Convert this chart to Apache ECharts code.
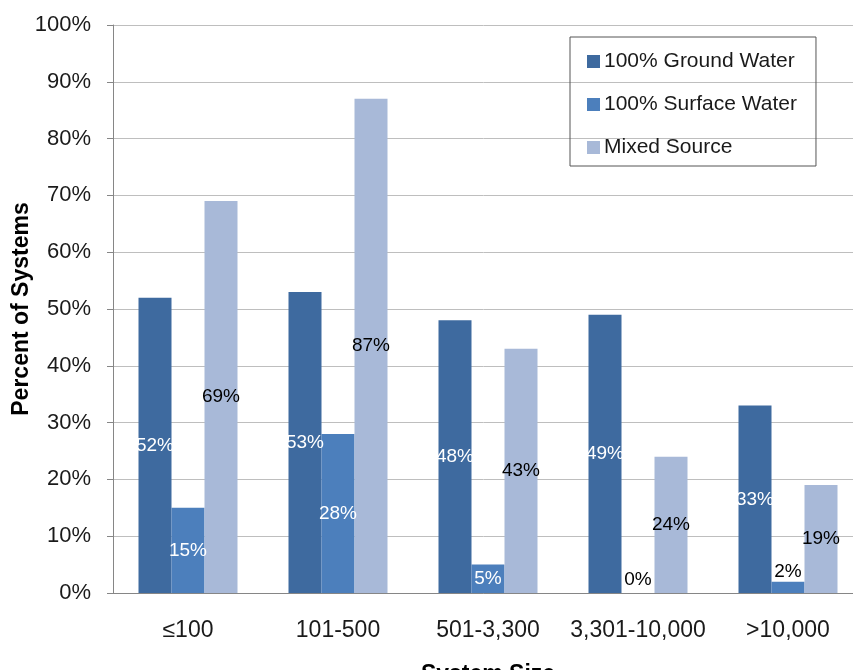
<!DOCTYPE html>
<html><head><meta charset="utf-8">
<script src="https://cdn.jsdelivr.net/npm/echarts@6/dist/echarts.min.js"></script>
<style>html,body{margin:0;padding:0;background:#fff;overflow:hidden}#c{width:853px;height:670px}</style>
</head><body><div id="c"></div>
<script>
const categories = ['≤100', '101-500', '501-3,300', '3,301-10,000', '>10,000'];
const groundWater = [52, 53, 48, 49, 33];
const surfaceWater = [15, 28, 5, 0, 2];
const mixedSource = [69, 87, 43, 24, 19];
const seriesNames = ['100% Ground Water', '100% Surface Water', 'Mixed Source'];
const colors = ['#3E6A9F', '#4C7FBC', '#A8B9D8'];
const FONT = 'Liberation Sans, Arial, sans-serif';

function items(arr) {
  return arr.map(v => {
    if (v <= 3) {
      return { value: v, label: { position: 'top', color: '#000', distance: v === 0 ? 4 : 0 } };
    }
    return { value: v };
  });
}

const labelBase = { show: true, position: 'inside', fontSize: 19, formatter: '{c}%', fontFamily: FONT };

const chart = echarts.init(document.getElementById('c'));
chart.setOption({
  animation: false,
  textStyle: { fontFamily: FONT },
  grid: { left: 113, width: 750, top: 25, height: 568, containLabel: false, outerBoundsMode: 'none' },
  legend: {
    orient: 'vertical', left: 570, top: 37,
    padding: [14, 19, 8, 17],
    itemGap: 22,
    itemWidth: 13, itemHeight: 13,
    borderColor: '#555', borderWidth: 1,
    textStyle: { fontSize: 21, color: '#1a1a1a', fontFamily: FONT, padding: [0, 0, 0, -1] },
    icon: 'rect',
    data: seriesNames
  },
  xAxis: {
    type: 'category', data: categories,
    name: 'System Size', nameLocation: 'middle', nameGap: 70, nameMoveOverlap: false,
    nameTextStyle: { fontSize: 23, fontWeight: 'bold', color: '#000', fontFamily: FONT },
    axisLine: { lineStyle: { color: '#868686' } },
    axisTick: { length: 8, lineStyle: { color: '#868686' } },
    axisLabel: { fontSize: 23, color: '#1a1a1a', margin: 26, interval: 0, hideOverlap: false, fontFamily: FONT }
  },
  yAxis: {
    type: 'value', min: 0, max: 100, interval: 10,
    name: 'Percent of Systems', nameLocation: 'middle', nameGap: 80, nameMoveOverlap: false,
    nameTextStyle: { fontSize: 23, fontWeight: 'bold', color: '#000', fontFamily: FONT },
    axisLine: { show: true, lineStyle: { color: '#868686' } },
    axisTick: { show: true, length: 6, lineStyle: { color: '#868686' } },
    splitLine: { lineStyle: { color: '#BEBEBE' } },
    axisLabel: { fontSize: 22, color: '#1a1a1a', margin: 22, formatter: '{value}%', fontFamily: FONT }
  },
  series: [
    { name: seriesNames[0], type: 'bar', data: items(groundWater), itemStyle: { color: colors[0] },
      barWidth: 33, barGap: '0%', label: Object.assign({}, labelBase, { color: '#fff' }) },
    { name: seriesNames[1], type: 'bar', data: items(surfaceWater), itemStyle: { color: colors[1] },
      barWidth: 33, barGap: '0%', label: Object.assign({}, labelBase, { color: '#fff' }) },
    { name: seriesNames[2], type: 'bar', data: items(mixedSource), itemStyle: { color: colors[2] },
      barWidth: 33, barGap: '0%', label: Object.assign({}, labelBase, { color: '#000' }) }
  ]
});
</script></body></html>
